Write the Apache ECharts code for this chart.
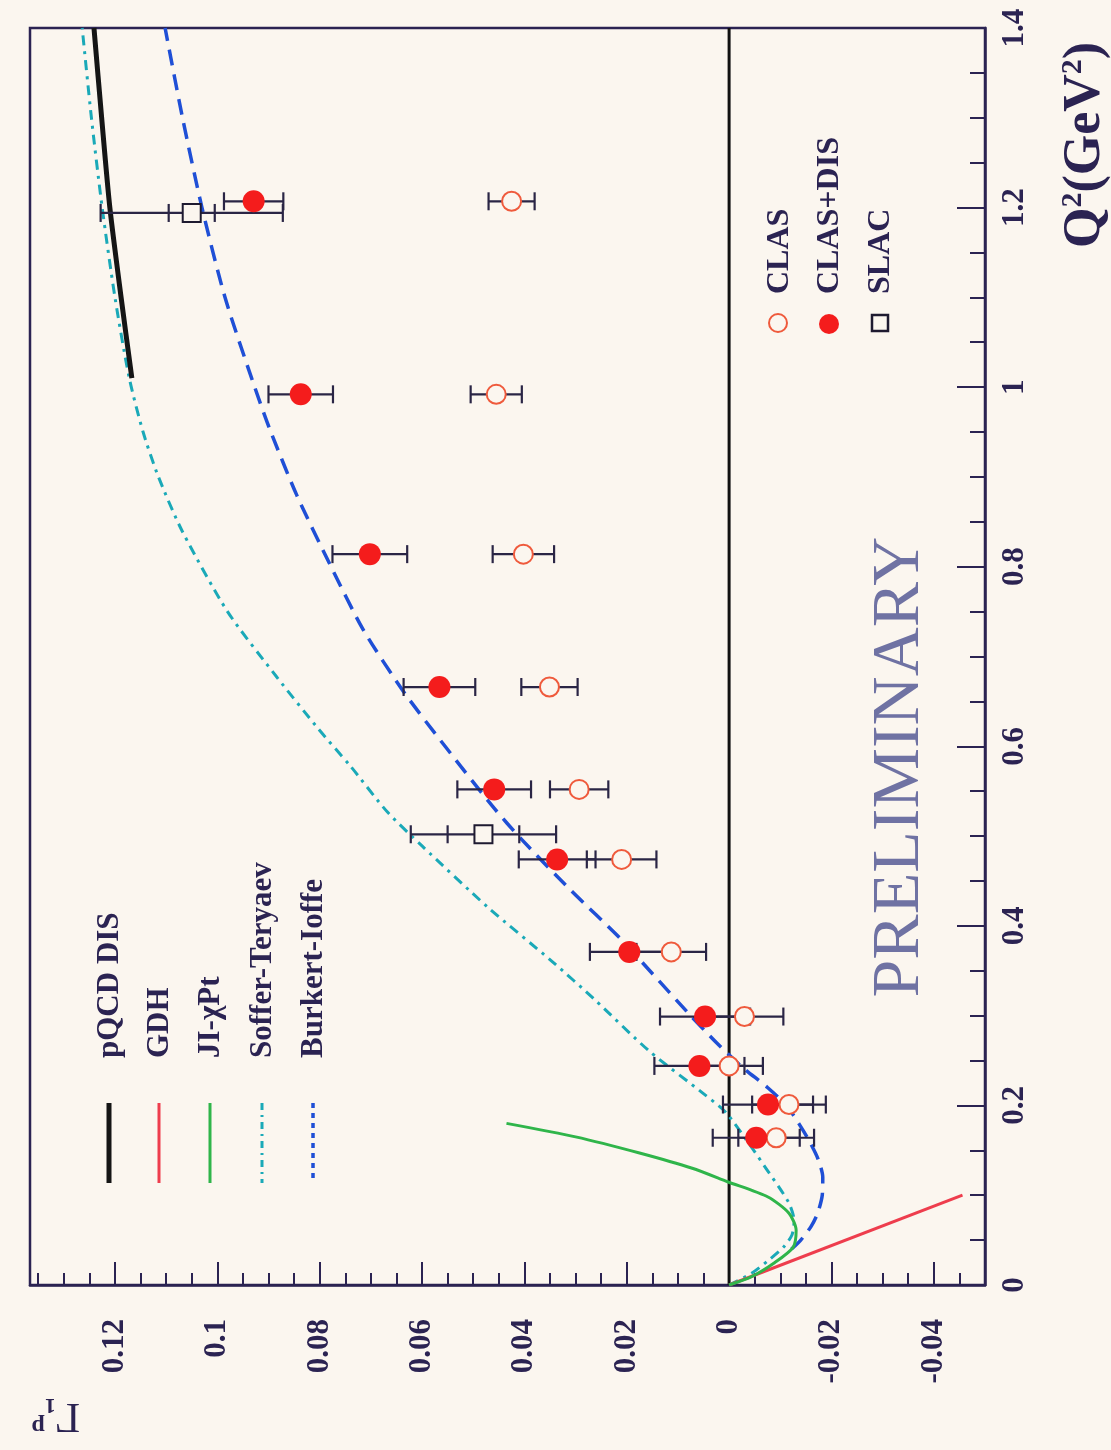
<!DOCTYPE html>
<html><head><meta charset="utf-8">
<script src="https://cdn.jsdelivr.net/npm/echarts@6.0.0/dist/echarts.min.js"></script>
<style>html,body{margin:0;padding:0;background:#fbf6ef;}#c{width:1111px;height:1450px;}</style>
</head><body><div id="c"></div>
<script>
// ---------- DATA ----------
// Gamma axis (horizontal) ticks and Q2 axis ticks
const gammaTicks = [-0.04, -0.02, 0, 0.02, 0.04, 0.06, 0.08, 0.1, 0.12];
const q2Ticks = [0, 0.2, 0.4, 0.6, 0.8, 1, 1.2, 1.4];

// data points (Q^2 values shared by CLAS and CLAS+DIS)
const q2Clas = [0.164, 0.201, 0.244, 0.299, 0.371, 0.474, 0.552, 0.666, 0.814, 0.992, 1.207];
const gammaClasDis = [-0.0053, -0.0076, 0.0058, 0.0047, 0.0195, 0.0336, 0.0459, 0.0566, 0.0702, 0.0837, 0.0929];
const errClasDis   = [0.0085, 0.0088, 0.0088, 0.0088, 0.0077, 0.0075, 0.0072, 0.0070, 0.0073, 0.0063, 0.0058];
const gammaClas = [-0.0092, -0.0117, 0.0000, -0.0030, 0.0113, 0.0210, 0.0293, 0.0351, 0.0402, 0.0455, 0.0425];
const errClas   = [0.0074, 0.0072, 0.0066, 0.0076, 0.0068, 0.0068, 0.0057, 0.0055, 0.0060, 0.0050, 0.0045];
const q2Slac = [0.502, 1.194];
const gammaSlac = [0.048, 0.105];
const errSlacStat = [0.007, 0.0045];
const errSlacTot = [0.0142, 0.0178];

// curves
const pqcdQ2 = [1.01, 1.1, 1.2, 1.3, 1.4];
const pqcdG  = [0.1167, 0.1188, 0.1210, 0.1226, 0.1241];
const gdhQ2 = [0, 0.1];
const gdhG  = [0, -0.0456];
const jiQ2 = [0, 0.009, 0.0245, 0.042, 0.061, 0.08, 0.098, 0.115, 0.13, 0.147, 0.165, 0.18];
const jiG  = [0, -0.0043, -0.0088, -0.0125, -0.0131, -0.0117, -0.0076, 0.0003, 0.0072, 0.0175, 0.0300, 0.0435];
const sofQ2 = [0, 0.013, 0.028, 0.042, 0.056, 0.072, 0.09, 0.106, 0.13, 0.154, 0.192, 0.214, 0.26, 0.318, 0.36, 0.42, 0.489, 0.527, 0.578, 0.619, 0.678, 0.75, 0.839, 0.9, 0.95, 1.01, 1.1, 1.2, 1.3, 1.4];
const sofG  = [0, -0.0044, -0.0078, -0.0106, -0.0123, -0.0127, -0.0118, -0.0101, -0.0072, -0.0043, 0.0006, 0.0052, 0.0155, 0.0263, 0.0345, 0.047, 0.060, 0.0668, 0.0740, 0.0802, 0.0885, 0.0980, 0.1068, 0.1115, 0.1145, 0.1172, 0.1200, 0.1225, 0.1246, 0.1264];
const burQ2 = [0.04, 0.05, 0.065, 0.08, 0.10, 0.12, 0.14, 0.16, 0.18, 0.2, 0.22, 0.243, 0.27, 0.303, 0.35, 0.385, 0.44, 0.496, 0.533, 0.6, 0.66, 0.73, 0.805, 0.88, 0.954, 1.01, 1.1, 1.2, 1.3, 1.4];
const burG  = [-0.0122, -0.0140, -0.0160, -0.0173, -0.0182, -0.0183, -0.0174, -0.0157, -0.0136, -0.0112, -0.0075, -0.0025, 0.0025, 0.0080, 0.0155, 0.0211, 0.0310, 0.0405, 0.0462, 0.0555, 0.0635, 0.0715, 0.0782, 0.0845, 0.0898, 0.0933, 0.0985, 0.1030, 0.1068, 0.1102];
const zeroQ2 = [0, 1.4];
const zeroG = [0, 0];

// ---------- CHART ----------
const BG = '#fbf6ef', INK = '#2b2352';
const SERIF = '"Liberation Serif","Times New Roman",serif';
const chart = echarts.init(document.getElementById('c'), null, {renderer: 'canvas'});

const pairs = (g, q) => q.map((v, i) => [g[i], v]);
const errData = (q, g, e, e2) => q.map((v, i) => [g[i], v, e[i], e2 ? e2[i] : 0]);

function errRender(params, api) {
  const g = api.value(0), q = api.value(1), e = api.value(2), e2 = api.value(3);
  const p1 = api.coord([g - e, q]), p2 = api.coord([g + e, q]);
  const h = 9;
  const st = {stroke: '#2a2545', lineWidth: 2.2};
  const ch = [
    {type: 'line', shape: {x1: p1[0], y1: p1[1], x2: p2[0], y2: p2[1]}, style: st},
    {type: 'line', shape: {x1: p1[0], y1: p1[1] - h, x2: p1[0], y2: p1[1] + h}, style: st},
    {type: 'line', shape: {x1: p2[0], y1: p2[1] - h, x2: p2[0], y2: p2[1] + h}, style: st}
  ];
  if (e2) {
    const a = api.coord([g - e2, q]), b = api.coord([g + e2, q]);
    ch.push({type: 'line', shape: {x1: a[0], y1: a[1] - h, x2: a[0], y2: a[1] + h}, style: st});
    ch.push({type: 'line', shape: {x1: b[0], y1: b[1] - h, x2: b[0], y2: b[1] + h}, style: st});
  }
  return {type: 'group', children: ch};
}

const labelFont = {fontSize: 31, fontWeight: 'bold', fontFamily: SERIF, color: INK};

const curve = (name, g, q, color, width, type, z) => ({
  name, type: 'line', data: pairs(g, q), showSymbol: false, symbol: 'none',
  smooth: 0.25, clip: true, z: z || 2,
  lineStyle: {color, width, type: type || 'solid', cap: 'butt', join: 'round'}
});

// legend graphics
const legendItems = [
  {t: 'pQCD DIS', x: 109, color: '#151515', w: 5, dash: null},
  {t: 'GDH', x: 159, color: '#ee3d4d', w: 3, dash: null},
  {t: 'JI-χPt', x: 210, color: '#2fb54a', w: 3, dash: null},
  {t: 'Soffer-Teryaev', x: 262, color: '#1aa9b8', w: 3, dash: [7, 5, 2, 5]},
  {t: 'Burkert-Ioffe', x: 313, color: '#1f4fd6', w: 3.5, dash: [5, 5]}
];
const graphics = [];
legendItems.forEach(it => {
  graphics.push({type: 'line', shape: {x1: it.x, y1: 1103, x2: it.x, y2: 1183},
    style: {stroke: it.color, lineWidth: it.w, lineDash: it.dash || null}});
  graphics.push({type: 'text', x: it.x + 1, y: 1058, rotation: Math.PI / 2,
    style: {text: it.t, fontSize: 31, fontWeight: 'bold', fontFamily: SERIF, fill: INK, align: 'left', verticalAlign: 'middle'}});
});
// marker legend
graphics.push({type: 'circle', shape: {cx: 778, cy: 323, r: 9}, style: {fill: BG, stroke: '#ef5a3c', lineWidth: 2}});
graphics.push({type: 'circle', shape: {cx: 829, cy: 324, r: 10}, style: {fill: '#f41c1c'}});
graphics.push({type: 'rect', shape: {x: 872, y: 315, width: 16, height: 16}, style: {fill: BG, stroke: '#1e1a30', lineWidth: 2.5}});
[['CLAS', 780], ['CLAS+DIS', 830], ['SLAC', 881]].forEach(([t, x]) => {
  graphics.push({type: 'text', x, y: 294, rotation: Math.PI / 2,
    style: {text: t, fontSize: 32, fontWeight: 'bold', fontFamily: SERIF, fill: INK, align: 'left', verticalAlign: 'middle'}});
});
// PRELIMINARY
graphics.push({type: 'text', x: 900, y: 767, rotation: Math.PI / 2,
  style: {text: 'PRELIMINARY', fontSize: 68, fontFamily: SERIF, fill: '#6f72a3', align: 'center', verticalAlign: 'middle'}});
// axis names
graphics.push({type: 'text', x: 1085, y: 248, rotation: Math.PI / 2,
  style: {text: '{a|Q}{s|2}{a|(GeV}{s|2}{a|)}', align: 'left', verticalAlign: 'middle', fill: INK,
    rich: {a: {fontSize: 52, fontWeight: 'bold', fontFamily: SERIF, fill: INK, verticalAlign: 'bottom', lineHeight: 54},
           s: {fontSize: 30, fontWeight: 'bold', fontFamily: SERIF, fill: INK, verticalAlign: 'top', lineHeight: 54}}}});
graphics.push({type: 'text', x: 80, y: 1416, rotation: Math.PI,
  style: {text: '{g|Γ}{b|1}{p|p}', align: 'left', verticalAlign: 'middle', fill: INK,
    rich: {g: {fontSize: 42, fontFamily: SERIF, fill: INK, verticalAlign: 'bottom', lineHeight: 44},
           b: {fontSize: 22, fontWeight: 'bold', fontFamily: SERIF, fill: INK, verticalAlign: 'bottom', lineHeight: 44},
           p: {fontSize: 24, fontWeight: 'bold', fontFamily: SERIF, fill: INK, verticalAlign: 'top', lineHeight: 44}}}});

const option = {
  backgroundColor: BG,
  animation: false,
  grid: {left: 30, right: 126, top: 28, bottom: 165, show: true, borderColor: INK, borderWidth: 2.5,
    backgroundColor: 'transparent', outerBoundsMode: 'none', containLabel: false},
  xAxis: [
    {type: 'value', position: 'bottom', inverse: true, min: -0.05, max: 0.1366,
     axisLine: {show: true, onZero: false, lineStyle: {color: INK, width: 2.5}},
     axisTick: {show: true, inside: true, length: 23, customValues: gammaTicks, lineStyle: {color: INK, width: 2}},
     axisLabel: Object.assign({customValues: gammaTicks, rotate: 90, margin: 34,
       formatter: v => String(+(+v).toFixed(2))}, labelFont),
     splitLine: {show: false}},
    {type: 'value', position: 'bottom', inverse: true, min: -0.05, max: 0.1366, interval: 0.005,
     axisLine: {show: false, onZero: false},
     axisTick: {show: true, inside: true, length: 12, lineStyle: {color: INK, width: 2}},
     axisLabel: {show: false}, splitLine: {show: false}}
  ],
  yAxis: {type: 'value', position: 'right', min: q2Ticks[0], max: q2Ticks[q2Ticks.length - 1], interval: 0.2,
    axisLine: {show: true, onZero: false, lineStyle: {color: INK, width: 2.5}},
    axisTick: {show: true, inside: true, length: 28, lineStyle: {color: INK, width: 2}},
    minorTick: {show: true, splitNumber: 4, length: 15, lineStyle: {color: INK, width: 2}},
    axisLabel: Object.assign({rotate: 90, margin: 14, align: 'center', verticalAlign: 'top'}, labelFont),
    splitLine: {show: false}, minorSplitLine: {show: false}},
  graphic: graphics,
  series: [
    {name: 'zero', type: 'line', data: pairs(zeroG, zeroQ2), showSymbol: false, symbol: 'none', z: 1,
     lineStyle: {color: '#111', width: 3}},
    curve('Soffer-Teryaev', sofG, sofQ2, '#1aa9b8', 3, [10, 6, 3, 6], 2),
    curve('Burkert-Ioffe', burG, burQ2, '#1f4fd6', 3.5, [16, 9], 2),
    curve('pQCD DIS', pqcdG, pqcdQ2, '#151515', 5, 'solid', 3),
    curve('GDH', gdhG, gdhQ2, '#ee3d4d', 3, 'solid', 3),
    curve('JI-χPt', jiG, jiQ2, '#2fb54a', 3, 'solid', 3),
    {name: 'errClasDis', type: 'custom', renderItem: errRender, data: errData(q2Clas, gammaClasDis, errClasDis),
     encode: {x: 0, y: 1}, z: 4, silent: true},
    {name: 'errClas', type: 'custom', renderItem: errRender, data: errData(q2Clas, gammaClas, errClas),
     encode: {x: 0, y: 1}, z: 4, silent: true},
    {name: 'errSlac', type: 'custom', renderItem: errRender, data: errData(q2Slac, gammaSlac, errSlacTot, errSlacStat),
     encode: {x: 0, y: 1}, z: 4, silent: true},
    {name: 'CLAS', type: 'scatter', data: pairs(gammaClas, q2Clas), symbol: 'circle', symbolSize: 19, z: 5,
     itemStyle: {color: BG, borderColor: '#ef5a3c', borderWidth: 2, opacity: 1}},
    {name: 'CLAS+DIS', type: 'scatter', data: pairs(gammaClasDis, q2Clas), symbol: 'circle', symbolSize: 22, z: 6,
     itemStyle: {color: '#f41c1c', opacity: 1}},
    {name: 'SLAC', type: 'scatter', data: pairs(gammaSlac, q2Slac), symbol: 'rect', symbolSize: 18, z: 6,
     itemStyle: {color: BG, borderColor: '#1e1a30', borderWidth: 2, opacity: 1}}
  ]
};
chart.setOption(option);
</script>
</body></html>
